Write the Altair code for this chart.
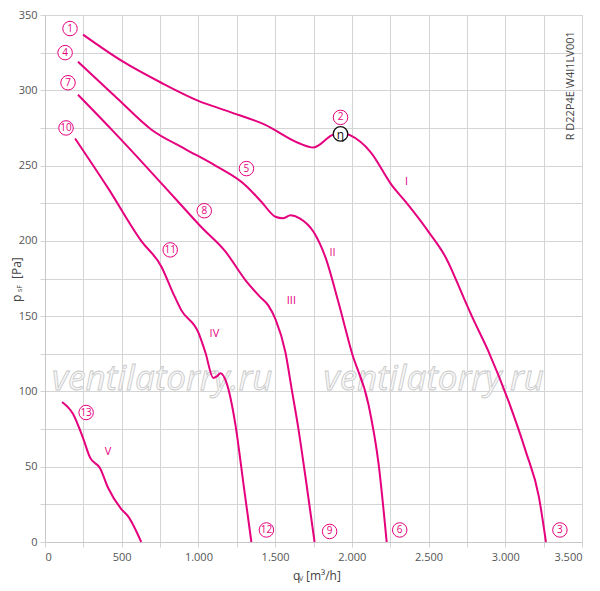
import altair as alt
import pandas as pd

MAG = "#e5007d"

c1_q = [248, 509, 758, 1000, 1195, 1436, 1652, 1750, 1868, 1920, 1991, 2122, 2260, 2350, 2500, 2612, 2730, 2782, 2893, 3023, 3134, 3219, 3265]
c1_p = [337, 319, 305, 293, 286, 277, 265, 262, 270, 272, 270, 259, 237, 226, 206, 189, 162, 150, 126, 93, 60, 30, 0]
c2_q = [215, 477, 692, 914, 1110, 1306, 1410, 1502, 1550, 1600, 1660, 1750, 1828, 1913, 1999, 2109, 2174, 2227]
c2_p = [319, 294, 274, 261, 250, 237, 226, 216, 215, 217, 215, 206, 189, 159, 126, 91, 52, 0]
c3_q = [215, 433, 653, 868, 1020, 1175, 1306, 1400, 1456, 1502, 1567, 1607, 1652, 1698, 1757]
c3_p = [297, 274, 250, 226, 209, 193, 174, 163, 157, 148, 126, 102, 75, 43, 0]
c4_q = [196, 411, 627, 758, 836, 888, 1000, 1045, 1097, 1120, 1143, 1182, 1241, 1293, 1345]
c4_p = [268, 235, 200, 183, 165, 154, 139, 126, 109, 110, 112, 106, 78, 39, 0]
c5_q = [111, 183, 248, 294, 359, 411, 496, 542, 627]
c5_p = [93, 85, 69, 56, 49, 36, 22, 17, 0]

num_labels = ["1", "4", "7", "10", "2", "5", "8", "11", "13", "12", "9", "6", "3"]
num_q = [163, 131, 150, 137, 1926, 1313, 1038, 816, 268, 1443, 1855, 2312, 3356]
num_p = [341, 325, 305, 275, 282, 248, 220, 194, 86, 8, 7, 8, 8]

roman_labels = ["I", "II", "III", "IV", "V"]
roman_q = [2357, 1874, 1606, 1104, 411]
roman_p = [239, 192, 160, 138, 60]

eta_q = [1926]
eta_p = [271]

wm_q = [764, 2534]
wm_p = [108, 108]

x_ticks = list(range(0, 3501, 250))
y_ticks = list(range(0, 351, 25))

rows = []
for name, qs, ps in [("I", c1_q, c1_p), ("II", c2_q, c2_p), ("III", c3_q, c3_p),
                     ("IV", c4_q, c4_p), ("V", c5_q, c5_p)]:
    for i, (q, p) in enumerate(zip(qs, ps)):
        rows.append({"curve": name, "q": q, "p": p, "i": i})
curves = pd.DataFrame(rows)
nums = pd.DataFrame({"t": num_labels, "q": num_q, "p": num_p})
romans = pd.DataFrame({"t": roman_labels, "q": roman_q, "p": roman_p})
eta = pd.DataFrame({"t": ["η"], "q": eta_q, "p": eta_p})
wm = pd.DataFrame({"t": ["ventilatorry.ru"] * 2, "q": wm_q, "p": wm_p})
model = pd.DataFrame({"t": ["R D22P4E W4I1LV001"], "q": [3428], "p": [303]})

FONT = "Open Sans"
xs = alt.Scale(domain=[0, 3500], nice=False)
ys = alt.Scale(domain=[0, 350], nice=False)

X = alt.X("q:Q", scale=xs, axis=alt.Axis(
    values=x_ticks, title=None, grid=True, gridColor="#d4d4d4", domainColor="#c8c8c8",
    tickColor="#d4d4d4", tickSize=5, labelColor="#555", labelFont=FONT, labelFontSize=11,
    labelPadding=4,
    labelExpr="datum.value % 500 == 0 ? replace(format(datum.value, ',d'), ',', '.') : ''"))
Y = alt.Y("p:Q", scale=ys, axis=alt.Axis(
    values=y_ticks, title=None, grid=True, gridColor="#d4d4d4", domainColor="#c8c8c8",
    tickColor="#d4d4d4", tickSize=5, labelColor="#555", labelFont=FONT, labelFontSize=11,
    labelPadding=3,
    labelExpr="datum.value % 50 == 0 ? format(datum.value, 'd') : ''"))

watermark = alt.Chart(wm).mark_text(
    font=FONT, fontSize=35, fontStyle="italic", fill="#f7f7f7", stroke="#c8c8c8",
    strokeWidth=0.8, align="center", baseline="middle"
).encode(x=X, y=Y, text="t:N")

lines = alt.Chart(curves).mark_line(
    color=MAG, strokeWidth=2, interpolate="monotone"
).encode(x=X, y=Y, detail="curve:N", order="i:Q")

circles = alt.Chart(nums).mark_point(
    shape="circle", size=210, filled=True, fill="white", stroke=MAG, strokeWidth=1, opacity=1
).encode(x=X, y=Y)
ctext = alt.Chart(nums).mark_text(
    font=FONT, fontSize=10, color=MAG, align="center", baseline="middle"
).encode(x=X, y=Y, text="t:N")

rtext = alt.Chart(romans).mark_text(
    font=FONT, fontSize=11, color=MAG, align="center", baseline="middle"
).encode(x=X, y=Y, text="t:N")

ecirc = alt.Chart(eta).mark_point(
    shape="circle", size=210, filled=True, fill="white", stroke="#111", strokeWidth=1.3, opacity=1
).encode(x=X, y=Y)
etext = alt.Chart(eta).mark_text(
    font=FONT, fontSize=12, color="#111", align="center", baseline="middle", dy=1
).encode(x=X, y=Y, text="t:N")

mtext = alt.Chart(model).mark_text(
    font=FONT, fontSize=11, color="#444", angle=270, align="center", baseline="middle"
).encode(x=X, y=Y, text="t:N")

# axis titles built from pieces (subscripts)
def lbl(txt, x, y, size, angle=0):
    return alt.Chart(pd.DataFrame({"t": [txt]})).mark_text(
        font=FONT, fontSize=size, color="#444", align="left", baseline="middle", angle=angle
    ).encode(x=alt.value(x), y=alt.value(y), text="t:N")

OX, OY = 45, 15
titles = [
    lbl("q", 293 - OX, 576 - OY, 12),
    lbl("V", 299 - OX, 579 - OY, 7),
    lbl("[m³/h]", 306 - OX, 576 - OY, 12),
    lbl("p", 17 - OX, 302 - OY, 12, 270),
    lbl("sF", 20 - OX, 292 - OY, 7, 270),
    lbl("[Pa]", 17 - OX, 279 - OY, 12, 270),
]

chart = alt.layer(watermark, lines, circles, ctext, rtext, ecirc, etext, mtext, *titles).properties(
    width=537, height=527,
    autosize=alt.AutoSizeParams(type="none"),
    padding={"left": 37, "top": 7, "right": 8, "bottom": 46},
).configure_view(stroke=None).configure(background="white")

chart.save("out.html", embed_options={"renderer": "svg", "actions": False})
